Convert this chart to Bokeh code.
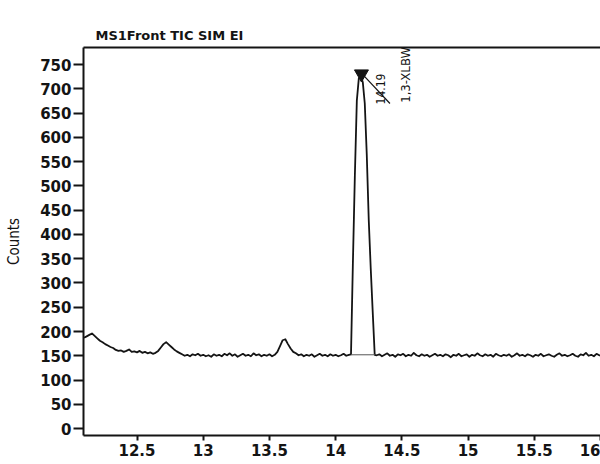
import math
from bokeh.plotting import figure
from bokeh.models import Range1d, FixedTicker, NumeralTickFormatter, Label, LinearAxis
from bokeh.embed import file_html
from bokeh.resources import INLINE

# ---- data ----
# baseline before the peak, sampled every 0.02 min starting at 12.10
t0_a = 12.10
counts_a = [187, 190, 193, 196, 191, 186, 181, 178, 174, 171,
            168, 166, 162, 160, 161, 158, 160, 163, 158, 159,
            157, 160, 156, 158, 155, 157, 154, 156, 160, 167,
            174, 178, 173, 168, 163, 159, 156, 153, 150, 152,
            149, 153, 151, 154, 150, 152, 149, 151, 148, 153,
            150, 152, 149, 154, 151, 155, 150, 153, 148, 151,
            154, 150, 152, 149, 155, 151, 153, 149, 152, 150,
            153, 149, 152, 158, 170, 182, 184, 174, 165, 158,
            155, 151, 153, 149, 152, 150, 153, 148, 151, 154,
            150, 152, 149, 153, 150, 152, 149, 151, 154, 150,
            152]
# main peak (1,3-XLBW)
peak_times = [14.116, 14.13, 14.145, 14.16, 14.175, 14.19, 14.205,
              14.22, 14.235, 14.25, 14.265, 14.28, 14.295]
peak_counts = [153, 338, 520, 676, 722, 728, 714,
               670, 565, 430, 330, 240, 152]
# baseline after the peak, sampled every 0.02 min starting at 14.31
t0_c = 14.31
counts_c = [151, 153, 149, 152, 155, 150, 152, 148, 153, 151,
            154, 149, 152, 150, 156, 151, 149, 153, 150, 152,
            148, 151, 154, 150, 152, 149, 153, 151, 147, 152,
            150, 154, 149, 151, 153, 148, 152, 150, 155, 151,
            149, 153, 150, 152, 148, 154, 151, 149, 152, 150,
            153, 148, 151, 155, 150, 152, 149, 153, 151, 148,
            152, 150, 154, 149, 151, 153, 150, 148, 152, 155,
            150, 152, 149, 151, 154, 150, 148, 153, 151, 156,
            150, 152, 149, 154, 151, 150]
dt = 0.02

peak_rt = 14.19
peak_apex = 731
peak_rt_label = "14.19"
peak_name = "1,3-XLBW"
integ_start, integ_end, integ_level = 14.116, 14.30, 152
tick_line_end = (14.41, 670)

x_ticks = [12.5, 13, 13.5, 14, 14.5, 15, 15.5, 16]
y_ticks = list(range(0, 751, 50))
title_text = "MS1Front TIC SIM EI"
y_label = "Counts"

times = ([round(t0_a + dt * i, 3) for i in range(len(counts_a))] + peak_times +
         [round(t0_c + dt * i, 3) for i in range(len(counts_c))])
counts = counts_a + peak_counts + counts_c

# ---- figure ----
p = figure(width=600, height=464,
           x_range=Range1d(12.096, 16.0), y_range=Range1d(-14.4, 785.5),
           output_backend="svg", toolbar_location=None,
           min_border_left=83, min_border_right=0,
           min_border_top=47, min_border_bottom=29)
p.grid.visible = False
p.outline_line_color = None
p.background_fill_color = "white"

TICK_FONT = "DejaVu Sans"
ink = "#141414"

for ax in (p.xaxis[0], p.yaxis[0]):
    ax.axis_line_width = 2
    ax.axis_line_color = ink
    ax.major_tick_line_width = 2
    ax.major_tick_line_color = ink
    ax.minor_tick_line_color = None
    ax.major_tick_in = 0
    ax.major_label_text_font = TICK_FONT
    ax.major_label_text_font_style = "bold"
    ax.major_label_text_font_size = "15px"
    ax.major_label_text_color = ink

p.xaxis.ticker = FixedTicker(ticks=x_ticks)
p.xaxis.formatter = NumeralTickFormatter(format="0.[0]")
p.xaxis.major_tick_out = 5
p.xaxis.major_label_standoff = 3

p.yaxis.ticker = FixedTicker(ticks=y_ticks)
p.yaxis.major_tick_out = 10
p.yaxis.major_label_standoff = 2
p.yaxis.axis_label = y_label
p.yaxis.axis_label_text_font = "DejaVu Sans Condensed"
p.yaxis.axis_label_text_font_style = "normal"
p.yaxis.axis_label_text_font_size = "15px"
p.yaxis.axis_label_text_color = ink
p.yaxis.axis_label_standoff = 14

top = LinearAxis(ticker=FixedTicker(ticks=[]), major_label_text_font_size="0px",
                 axis_line_width=2, axis_line_color=ink,
                 major_tick_line_color=None, minor_tick_line_color=None)
p.add_layout(top, "above")

p.title.text = title_text
p.title.align = "left"
p.title.offset = 12
p.title.text_font = TICK_FONT
p.title.text_font_style = "bold"
p.title.text_font_size = "13px"
p.title.text_color = ink
p.title.standoff = 10

# signal
p.line(times, counts, line_color=ink, line_width=1.8, line_join="round")
# integration baseline
p.line([integ_start, integ_end], [integ_level, integ_level], line_color="#555555", line_width=1)
# peak marker and annotation stroke
p.line([peak_rt + 0.01, tick_line_end[0]], [peak_apex, tick_line_end[1]], line_color=ink, line_width=1.2)
p.scatter([peak_rt + 0.005], [peak_apex], marker="inverted_triangle", size=14,
          fill_color=ink, line_color=ink)

p.add_layout(Label(x=14.335, y=700, text=peak_rt_label, angle=math.pi / 2,
                   text_align="center", text_baseline="middle",
                   text_font="DejaVu Sans Condensed", text_font_size="12px", text_color=ink))
p.add_layout(Label(x=14.525, y=729, text=peak_name, angle=math.pi / 2,
                   text_align="center", text_baseline="middle",
                   text_font="DejaVu Sans Condensed", text_font_size="13px", text_color=ink))

open("out.html", "w").write(file_html(p, INLINE))
